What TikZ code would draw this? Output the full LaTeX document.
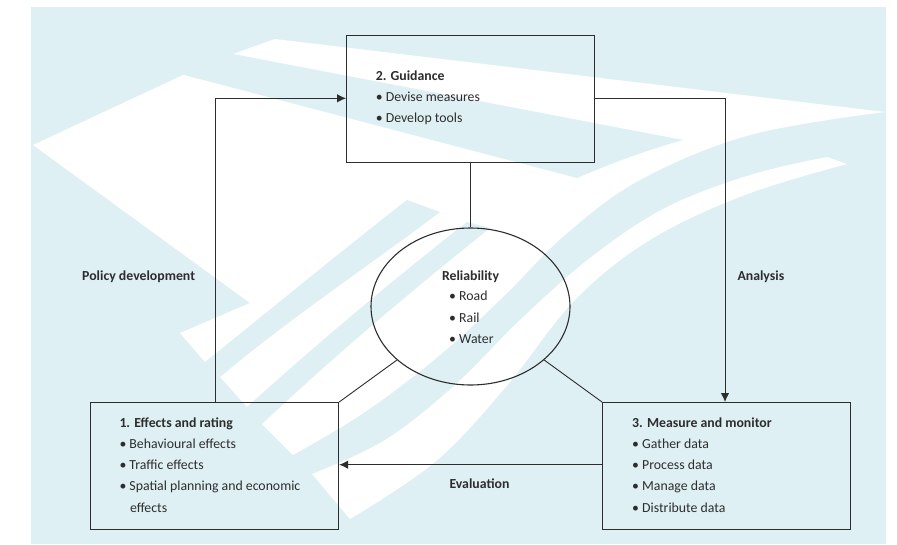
\documentclass[tikz,border=0pt]{standalone}
\usepackage{fontspec}
\setmainfont{Carlito}
\usetikzlibrary{shapes.geometric,arrows.meta}
\definecolor{bg}{RGB}{223,240,244}
\definecolor{ink}{RGB}{45,45,45}
\tikzset{
  box/.style={draw=ink,line width=1.2pt,minimum width=248pt,minimum height=127pt,anchor=north west,inner sep=0pt},
  conn/.style={draw=ink,line width=0.9pt},
  arr/.style={conn,-{Latex[length=9pt,width=8.5pt]}},
  txt/.style={anchor=base west,inner sep=0pt,text=ink,font=\fontsize{13.8}{16}\selectfont},
  btxt/.style={txt,font=\fontsize{13.8}{16}\selectfont\bfseries},
}
\begin{document}
\begin{tikzpicture}[x={(1pt,0pt)},y={(0pt,-1pt)}]
\useasboundingbox (0,0) rectangle (897,544);
% background
\fill[bg] (31,7) rectangle (886,544);
% white fan
\fill[white] (33,145) -- (183,75) -- (233,54) -- (275,39) --
  plot[smooth,tension=0.6] coordinates {(885,112) (750,135) (640,180) (565,235) (505,295) (440,355) (365,412) (293,455)}
  -- (262,424) -- (247,407) -- (220,377) -- (205,362) -- (180,333) -- (250,303) -- cycle;
% blue wedge (top)
\fill[bg] (150,66) -- (577,178) .. controls (612,163) and (647,150) .. (683,140) -- (233,54) -- (200,48) -- cycle;
% blue bands cut into fan
\fill[bg] (197,368) -- (205,362) .. controls (270,310) and (340,252) .. (407,200) -- (440,212) .. controls (370,265) and (290,318) .. (220,377) -- (212,383) -- cycle;
\fill[bg] (239,413) -- (247,407) .. controls (310,350) and (390,282) .. (467,222) -- (490,228) .. controls (415,288) and (335,355) .. (262,424) -- (254,430) -- cycle;
% white band lower
\fill[white] plot[smooth,tension=0.6] coordinates {(312,474) (385,440) (455,385) (520,320) (590,258) (665,208) (750,175) (827,157)}
  -- plot[smooth,tension=0.6] coordinates {(847,164) (745,195) (650,240) (575,300) (505,388) (435,462) (350,519)} -- cycle;

% boxes
\node[box] (g) at (346,35) {};
\node[box] (b1) at (90,402) {};
\node[box] (b3) at (602,402) {};
\node[draw=ink,line width=1.1pt,ellipse,minimum width=199pt,minimum height=157pt,inner sep=0pt] (e) at (470.5,306.5) {};

% texts
\node[btxt] (g0) at (375.6,80) {2. Guidance};
\node[txt] (g1) at (375.6,101) {• Devise measures};
\node[txt] (g2) at (375.6,122) {• Develop tools};

\node[btxt] (a0) at (119.3,427.7) {1. Effects and rating};
\node[txt] (a1) at (119.3,448.7) {• Behavioural effects};
\node[txt] (a2) at (119.3,469.7) {• Traffic effects};
\node[txt] (a3) at (119.3,490.7) {• Spatial planning and economic};
\node[txt] (a4) at (129.8,512) {effects};

\node[btxt] (c0) at (632,427.7) {3. Measure and monitor};
\node[txt] (c1) at (632,448.7) {• Gather data};
\node[txt] (c2) at (632,469.7) {• Process data};
\node[txt] (c3) at (632,490.7) {• Manage data};
\node[txt] (c4) at (632,512) {• Distribute data};

\node[btxt,anchor=base] (r0) at (470.5,280) {Reliability};
\node[txt] (r1) at (449,300.7) {• Road};
\node[txt] (r2) at (449,322.3) {• Rail};
\node[txt] (r3) at (449,343.3) {• Water};

\node[btxt] (lp) at (82,280) {Policy development};
\node[btxt] (la) at (737.3,280) {Analysis};
\node[btxt] (le) at (449.3,488.3) {Evaluation};

% connectors
\coordinate (pl) at (215.5,98.3);
\coordinate (ar) at (725,98.3);
\draw[arr] (b1.north west -| pl) |- (g.west |- pl);
\draw[arr] (g.east |- ar) -| (b3.north west -| ar);
\draw[arr] (b3.west |- 0,464.7) -- (b1.east |- 0,464.7);
\draw[conn] (g.south -| e.north) -- (e.north);
\draw[conn] (e) -- (b1.north east);
\draw[conn] (e) -- (b3.north west);
\end{tikzpicture}
\end{document}
